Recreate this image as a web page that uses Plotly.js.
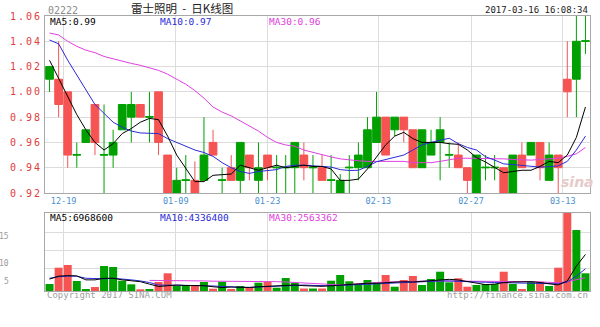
<!DOCTYPE html>
<html><head><meta charset="utf-8">
<script src="https://cdn.plot.ly/plotly-3.0.1.min.js"></script>
<style>
html,body{margin:0;padding:0;background:#fff;}
#chart{width:600px;height:327px;}
g.ytick text{letter-spacing:2px;}
</style></head><body><div id="chart"></div>
<script>
// ---- data ----
const tickLabels = ['12-19','01-09','01-23','02-13','02-27','03-13'];
const openP  = [1.02,0.99,0.95,0.9505,0.97,0.96,0.9505,0.96,0.99,0.99,0.98,0.9805,0.96,0.92,0.93,0.9305,0.92,0.95,0.95,0.9305,0.93,0.96,0.94,0.94,0.94,0.9405,0.9405,0.96,0.94,0.9405,0.93,0.9305,0.93,0.9405,0.95,0.97,0.98,0.95,0.98,0.97,0.94,0.97,0.96,0.97,0.9505,0.94,0.93,0.95,0.9405,0.9405,0.92,0.95,0.94,0.96,0.94,0.95,0.94,1.00,1.04,1.0405];
const highP  = [1.02,1.04,1.00,0.96,0.97,0.99,0.99,0.97,0.99,1.00,0.99,1.00,1.00,0.95,0.94,0.95,0.945,0.98,0.97,0.94,0.95,0.96,0.95,0.96,0.95,0.95,0.95,0.96,0.96,0.95,0.95,0.95,0.935,0.95,0.96,0.98,1.00,0.98,0.98,0.98,0.97,0.97,0.97,0.98,0.96,0.96,0.94,0.95,0.95,0.95,0.94,0.95,0.96,0.96,0.96,0.96,0.95,1.04,1.06,1.06];
const lowP   = [1.00,0.98,0.94,0.94,0.96,0.95,0.92,0.94,0.97,0.96,0.98,0.96,0.95,0.92,0.92,0.92,0.92,0.93,0.95,0.92,0.93,0.92,0.93,0.92,0.93,0.92,0.92,0.92,0.93,0.92,0.93,0.92,0.92,0.92,0.93,0.94,0.96,0.95,0.965,0.96,0.94,0.94,0.95,0.93,0.94,0.94,0.92,0.92,0.93,0.93,0.92,0.92,0.94,0.95,0.93,0.93,0.92,0.98,0.98,1.03];
const closeP = [1.01,1.01,1.00,0.95,0.96,0.99,0.95,0.95,0.97,0.98,0.99,0.98,1.00,0.95,0.92,0.93,0.93,0.93,0.96,0.93,0.94,0.93,0.95,0.93,0.95,0.94,0.94,0.94,0.95,0.94,0.94,0.93,0.92,0.94,0.94,0.94,0.96,0.98,0.97,0.98,0.97,0.94,0.95,0.96,0.95,0.95,0.94,0.92,0.94,0.94,0.94,0.92,0.95,0.95,0.96,0.93,0.95,1.01,1.01,1.04];
const ma5  = [1.025,1.011,0.996,0.982,0.970,0.960,0.954,0.959,0.967,0.971,0.976,0.979,0.978,0.965,0.950,0.939,0.929,0.929,0.934,0.9345,0.935,0.942,0.940,0.938,0.940,0.942,0.940,0.941,0.942,0.941,0.941,0.939,0.930,0.930,0.931,0.939,0.949,0.958,0.965,0.968,0.963,0.960,0.960,0.960,0.959,0.9585,0.954,0.948,0.9445,0.940,0.936,0.937,0.938,0.938,0.941,0.945,0.944,0.950,0.964,0.988];
const ma10 = [1.041,1.038,1.025,1.013,1.001,0.990,0.983,0.976,0.972,0.969,0.9675,0.967,0.967,0.963,0.960,0.957,0.954,0.952,0.949,0.944,0.940,0.937,0.9355,0.937,0.9375,0.9385,0.941,0.942,0.942,0.9415,0.941,0.9405,0.9385,0.9378,0.938,0.941,0.9447,0.9466,0.948,0.950,0.954,0.958,0.960,0.9615,0.9633,0.959,0.956,0.954,0.9487,0.946,0.943,0.9425,0.942,0.941,0.9405,0.9408,0.9415,0.945,0.954,0.965];
const ma30 = [1.0465,1.045,1.040,1.036,1.033,1.031,1.028,1.026,1.024,1.0225,1.021,1.019,1.017,1.014,1.010,1.006,1.001,0.995,0.988,0.984,0.981,0.977,0.9727,0.969,0.964,0.960,0.958,0.957,0.954,0.952,0.950,0.9485,0.947,0.946,0.9455,0.945,0.945,0.945,0.945,0.945,0.944,0.9438,0.944,0.945,0.9465,0.9475,0.9475,0.9475,0.9475,0.947,0.947,0.9465,0.946,0.946,0.9465,0.947,0.9475,0.949,0.951,0.956];
const volM = [1.32,4.40,4.91,1.89,0.38,0.75,4.72,4.53,1.94,1.26,0.32,0.38,1.70,3.34,0.94,0.94,0.94,1.70,0.43,1.75,0.38,0.94,0.62,1.57,1.75,0.62,2.45,1.57,0.47,0.47,0.47,1.94,3.02,1.83,1.32,2.08,1.64,3.02,0.81,2.08,2.83,1.13,2.26,3.64,1.64,2.40,0.81,1.13,1.32,1.32,3.64,1.32,0.38,1.75,1.75,0.94,4.40,14.72,11.51,3.34];
const vma5  = [2.25,2.8,2.9,2.85,2.1,2.1,2.4,2.4,2.1,1.94,1.76,1.3,0.85,1.0,1.13,1.05,1.0,1.0,0.8,0.66,0.75,0.72,0.66,0.8,0.9,1.0,1.13,1.13,1.0,0.9,0.88,1.0,1.13,1.13,1.3,1.45,1.45,1.6,1.7,1.76,1.7,1.8,1.95,2.1,2.2,2.08,1.8,1.45,1.2,1.3,1.6,1.7,1.75,1.76,1.6,1.4,1.15,1.9,4.7,6.9];
const vma10 = [2.4,2.7,2.8,2.8,2.4,2.3,2.3,2.4,2.3,2.1,1.9,1.6,1.13,1.13,1.1,1.05,1.0,1.0,0.95,0.85,0.7,0.7,0.68,0.75,0.88,0.95,1.1,1.13,1.13,1.05,1.0,1.0,1.05,1.13,1.2,1.3,1.4,1.5,1.55,1.6,1.7,1.8,1.89,1.89,1.89,1.8,1.76,1.7,1.65,1.6,1.57,1.57,1.57,1.57,1.5,1.4,1.35,1.7,2.8,4.2];
const vma30 = [null,null,null,null,null,null,null,null,null,null,null,2.0,2.0,1.94,1.94,1.94,1.9,1.9,1.85,1.85,1.8,1.8,1.8,1.76,1.76,1.76,1.7,1.6,1.55,1.35,1.3,1.15,1.15,1.25,1.4,1.57,1.6,1.7,1.76,1.76,1.8,1.85,1.89,1.89,1.89,1.89,1.89,1.89,1.85,1.8,1.76,1.76,1.76,1.76,1.7,1.6,1.57,1.76,2.1,2.5];
const maLabels  = ['MA5:0.99','MA10:0.97','MA30:0.96'];
const vmaLabels = ['MA5:6968600','MA10:4336400','MA30:2563362'];
const volTickLabels = ['15','10','5'];
const priceTicks = [0.92,0.94,0.96,0.98,1.00,1.02,1.04,1.06];

// ---- styling / layout ----
const RED = '#f65353', GREEN = '#00a000';
const MA_COL = ['#000000', '#2a2ad8', '#e040e0'];
const MONO = 'DejaVu Sans Mono, monospace';
const idx = closeP.map((_, i) => i);
const W = 600, H = 327, L = 45, R = 10, T = 16, B = 36;
const pw = W - L - R, ph = H - T - B;
const px = x => (x - L) / pw;
const py = y => (H - B - y) / ph;
const tickPos = [1.55, 13.9, 24.0, 36.2, 46.4, 56.5];

const traces = [
  {type:'candlestick', x: idx, open: openP, high: highP, low: lowP, close: closeP,
   xaxis:'x', yaxis:'y', whiskerwidth: 0,
   increasing:{line:{color:RED, width:1}, fillcolor:RED},
   decreasing:{line:{color:GREEN, width:1}, fillcolor:GREEN}, hoverinfo:'skip'},
  {type:'scatter', mode:'lines', x: idx, y: ma30, xaxis:'x', yaxis:'y', line:{color:MA_COL[2], width:1}},
  {type:'scatter', mode:'lines', x: idx, y: ma10, xaxis:'x', yaxis:'y', line:{color:MA_COL[1], width:1}},
  {type:'scatter', mode:'lines', x: idx, y: ma5,  xaxis:'x', yaxis:'y', line:{color:MA_COL[0], width:1}},
  {type:'bar', x: idx, y: volM, xaxis:'x2', yaxis:'y2',
   marker:{color: closeP.map((c, i) => c > openP[i] ? RED : GREEN), line:{width:0}}},
  {type:'scatter', mode:'lines', x: idx, y: vma30, xaxis:'x2', yaxis:'y2', line:{color:MA_COL[2], width:1}},
  {type:'scatter', mode:'lines', x: idx, y: vma10, xaxis:'x2', yaxis:'y2', line:{color:MA_COL[1], width:1}},
  {type:'scatter', mode:'lines', x: idx, y: vma5,  xaxis:'x2', yaxis:'y2', line:{color:MA_COL[0], width:1}}
];

const gridC = '#dcdcdc', lineC = '#a8a8a8';
const mainTop = py(193);
const volTop = py(213);

function ann(text, x, y, opts) {
  return Object.assign({text, x: px(x), y: py(y), xref:'paper', yref:'paper', showarrow:false,
    xanchor:'left', yanchor:'middle', font:{family:MONO, size:9.5, color:'#000'}}, opts || {});
}
const annotations = [
  ann('02222', 46, 10.5, {font:{family:MONO, size:10, color:'#8a8a8a'}}),
  ann('雷士照明  -  日K线图', 182, 8.5, {xanchor:'center', font:{family:'Noto Sans CJK SC, sans-serif', size:11.5, color:'#222'}}),
  ann('2017-03-16 16:08:34', 590, 10.5, {xanchor:'right', font:{family:MONO, size:9, color:'#222'}}),
  ann(maLabels[0], 48, 21.5, {font:{family:MONO, size:9.5, color:MA_COL[0]}}),
  ann(maLabels[1], 158, 21.5, {font:{family:MONO, size:9.5, color:MA_COL[1]}}),
  ann(maLabels[2], 267, 21.5, {font:{family:MONO, size:9.5, color:MA_COL[2]}}),
  ann(vmaLabels[0], 48, 217, {font:{family:MONO, size:9.5, color:MA_COL[0]}}),
  ann(vmaLabels[1], 158, 217, {font:{family:MONO, size:9.5, color:MA_COL[1]}}),
  ann(vmaLabels[2], 267, 217, {font:{family:MONO, size:9.5, color:MA_COL[2]}}),
  ann(volTickLabels[0], 11, 236.7, {xanchor:'right', font:{family:MONO, size:8, color:'#9a9a9a'}}),
  ann(volTickLabels[1], 11, 263.3, {xanchor:'right', font:{family:MONO, size:8, color:'#9a9a9a'}}),
  ann(volTickLabels[2], 11, 281.7, {xanchor:'right', font:{family:MONO, size:8, color:'#9a9a9a'}}),
  ann('Copyright 2017 SINA.COM', 45, 294.5, {font:{family:MONO, size:9, color:'#a0a0a0'}}),
  ann('http://finance.sina.com.cn', 590, 294.5, {xanchor:'right', font:{family:MONO, size:9, color:'#a0a0a0'}}),
  ann('<b><i>sina</i></b>', 577, 182, {xanchor:'center', font:{family:'DejaVu Sans, sans-serif', size:14, color:'#e6caca'}})
];

const layout = {
  width: W, height: H,
  margin: {l:L, r:R, t:T, b:B, pad:0},
  paper_bgcolor:'#fff', plot_bgcolor:'#fff',
  showlegend:false, boxgap: 0.15, boxgroupgap: 0, bargap: 0.12,
  xaxis: {anchor:'y', domain:[0,1], range:[-0.5, 59.5], fixedrange:true,
    tickmode:'array', tickvals: tickPos, ticktext: tickLabels,
    tickfont:{family:MONO, size:8.5, color:'#4a8fd0'}, ticks:'',
    showgrid:true, gridcolor:gridC, gridwidth:1, zeroline:false,
    showline:true, mirror:true, linecolor:lineC, linewidth:1,
    rangeslider:{visible:false}},
  yaxis: {anchor:'x', domain:[mainTop, 1], range:[0.92, 1.06], fixedrange:true,
    tickmode:'array', tickvals: priceTicks, tickformat:'.2f',
    tickfont:{family:MONO, size:10, color:'#e03c3c'}, ticks:'',
    showgrid:true, gridcolor:gridC, gridwidth:1, zeroline:false,
    showline:true, mirror:true, linecolor:lineC, linewidth:1},
  xaxis2: {anchor:'y2', domain:[0,1], range:[-0.5, 59.5], fixedrange:true,
    tickmode:'array', tickvals: tickPos, showticklabels:false, ticks:'',
    showgrid:true, gridcolor:gridC, gridwidth:1, zeroline:false,
    showline:true, mirror:true, linecolor:lineC, linewidth:1},
  yaxis2: {anchor:'x2', domain:[0, volTop], range:[0, 14.72], fixedrange:true,
    tickmode:'array', tickvals:[4.28, 7.6, 11.0], showticklabels:false, ticks:'',
    showgrid:true, gridcolor:gridC, gridwidth:1, zeroline:false,
    showline:true, mirror:true, linecolor:lineC, linewidth:1},
  annotations
};

Plotly.newPlot('chart', traces, layout, {staticPlot:true, displayModeBar:false});
</script></body></html>
